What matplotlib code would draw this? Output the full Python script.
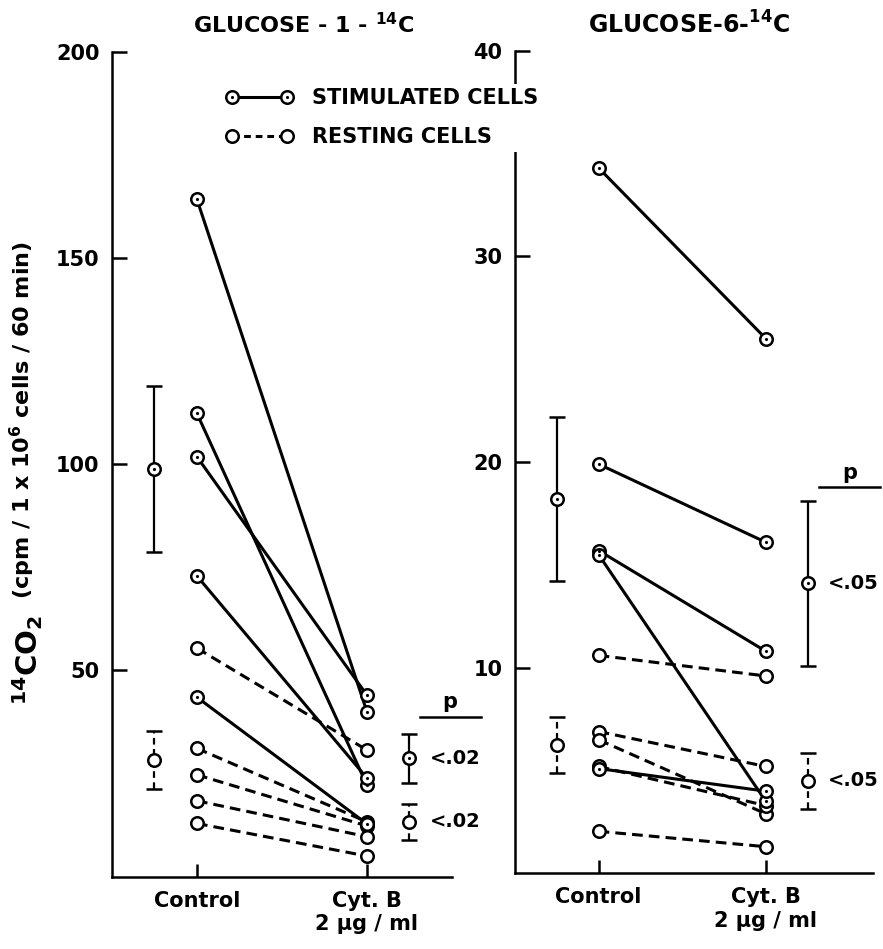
import matplotlib
matplotlib.use('Agg')
import matplotlib.pyplot as plt
from matplotlib.lines import Line2D
from matplotlib.legend_handler import HandlerTuple

plt.rcParams['font.family'] = ['DejaVu Sans']
plt.rcParams['font.weight'] = 'bold'

# glucose-1-14C, values (cpm / 1x10^6 cells / 60 min)
g1_stim_ctrl = [164.2, 112.3, 101.8, 72.9, 43.5]
g1_stim_cytb = [40.0, 22.2, 44.0, 23.9, 12.8]
g1_rest_ctrl = [55.4, 31.1, 24.7, 18.4, 12.9]
g1_rest_cytb = [30.7, 13.3, 12.3, 9.7, 5.0]
g1_stim_mean = [98.8, 28.7]
g1_stim_err = [20.2, 5.9]
g1_rest_mean = [28.3, 13.3]
g1_rest_err = [7.1, 4.4]
g1_p = ['<.02', '<.02']

# glucose-6-14C
g6_stim_ctrl = [34.3, 19.9, 15.7, 15.5, 5.1]
g6_stim_cytb = [26.0, 16.1, 10.8, 3.5, 4.0]
g6_rest_ctrl = [10.6, 6.9, 6.5, 5.2, 2.05]
g6_rest_cytb = [9.6, 5.2, 2.9, 3.3, 1.3]
g6_stim_mean = [18.2, 14.1]
g6_stim_err = [4.0, 4.0]
g6_rest_mean = [6.25, 4.5]
g6_rest_err = [1.35, 1.36]
g6_p = ['<.05', '<.05']

conditions = ['Control', 'Cyt. B\n2 \u03bcg / ml']

xpos = [1, 2]
mean_x = [0.75, 2.25]
LW = 2.2
MS = 9
DASH = (0, (3.5, 2))

fig = plt.figure(figsize=(8.83, 9.49), dpi=100)
ax1 = fig.add_axes([0.1268, 0.0762, 0.385, 0.8693])
ax2 = fig.add_axes([0.5832, 0.0796, 0.4054, 0.8670])


def draw_panel(ax, stim_c, stim_b, rest_c, rest_b, s_mean, s_err, r_mean, r_err, pvals):
    for a, b in zip(rest_c, rest_b):
        ax.plot(xpos, [a, b], color='k', lw=LW, ls=DASH, marker='o', ms=MS,
                mfc='white', mew=1.8, zorder=2)
    for a, b in zip(stim_c, stim_b):
        ax.plot(xpos, [a, b], color='k', lw=LW, marker='o', ms=MS,
                mfc='white', mew=1.8, zorder=3)
        ax.plot(xpos, [a, b], ls='none', marker='.', ms=2.5, color='k', zorder=4)

    ax.errorbar(mean_x, s_mean, yerr=s_err, fmt='o', color='k', ms=MS, mfc='white',
                mew=1.8, elinewidth=1.6, capsize=6, capthick=1.6, zorder=3)
    ax.plot(mean_x, s_mean, ls='none', marker='.', ms=2.5, color='k', zorder=5)
    eb = ax.errorbar(mean_x, r_mean, yerr=r_err, fmt='o', color='k', ms=MS, mfc='white',
                     mew=1.8, elinewidth=1.6, capsize=6, capthick=1.6, zorder=3)
    eb[2][0].set_linestyle((0, (3, 2)))

    ax.text(2.37, s_mean[1], pvals[0], ha='left', va='center', fontsize=14)
    ax.text(2.37, r_mean[1], pvals[1], ha='left', va='center', fontsize=14)

    ax.set_xticks(xpos)
    ax.set_xticklabels(conditions)
    for s in ['top', 'right']:
        ax.spines[s].set_visible(False)
    for s in ['left', 'bottom']:
        ax.spines[s].set_linewidth(1.8)
    ax.tick_params(axis='both', direction='in', width=1.8, labelsize=15)
    ax.tick_params(axis='y', length=11, pad=9)
    ax.tick_params(axis='x', length=9.5, pad=10)


draw_panel(ax1, g1_stim_ctrl, g1_stim_cytb, g1_rest_ctrl, g1_rest_cytb,
           g1_stim_mean, g1_stim_err, g1_rest_mean, g1_rest_err, g1_p)
ax1.set_xlim(0.5, 2.5)
ax1.set_ylim(0, 200)
ax1.set_yticks([50, 100, 150, 200])
ax1.text(2.49, 40.9, 'p', ha='center', va='baseline', fontsize=15)
ax1.plot([2.31, 2.67], [38.8, 38.8], color='k', lw=1.8, clip_on=False)

draw_panel(ax2, g6_stim_ctrl, g6_stim_cytb, g6_rest_ctrl, g6_rest_cytb,
           g6_stim_mean, g6_stim_err, g6_rest_mean, g6_rest_err, g6_p)
ax2.set_xlim(0.5, 2.64)
ax2.set_ylim(0, 40)
ax2.set_yticks([10, 20, 30, 40])
ax2.text(2.5, 19.2, 'p', ha='center', va='baseline', fontsize=15)
ax2.plot([2.32, 2.68], [18.8, 18.8], color='k', lw=1.8, clip_on=False)

# titles and y label
fig.text(304 / 883, 1 - 25 / 949, r'GLUCOSE - 1 - $^{\mathbf{14}}$C', ha='center', va='center', fontsize=16)
fig.text(689 / 883, 1 - 25 / 949, r'GLUCOSE-6-$^{\mathbf{14}}$C', ha='center', va='center', fontsize=17)
fig.text(28 / 883, 1 - 660 / 949, r'$^{\mathbf{14}}$CO$_{\mathbf{2}}$', rotation=90,
         ha='center', va='center', fontsize=21)
fig.text(22 / 883, 1 - 420 / 949, r'(cpm / 1 x 10$^{\mathbf{6}}$ cells / 60 min)', rotation=90,
         ha='center', va='center', fontsize=16)

# legend (white box hides the right spine behind it, like the original)
stim_h = (Line2D([], [], color='k', lw=LW, marker='o', ms=MS, mfc='white', mew=1.8),
          Line2D([], [], ls='none', marker='.', ms=2.5, color='k'))
rest_h = Line2D([], [], color='k', lw=LW, ls=(0, (2.2, 1.6)), marker='o', ms=MS, mfc='white', mew=1.8)
fig.legend([stim_h, rest_h], ['STIMULATED CELLS', 'RESTING CELLS'],
           handler_map={tuple: HandlerTuple(ndivide=1, pad=0)},
           loc='upper left', bbox_to_anchor=(222 / 883, 1 - 84 / 949), borderaxespad=0,
           numpoints=2, handlelength=3.2, handletextpad=0.9, labelspacing=0.92,
           frameon=True, fancybox=False, edgecolor='none', facecolor='white',
           framealpha=1, borderpad=0.2, prop={'weight': 'bold', 'size': 15})

fig.savefig('out.png', dpi=100)
